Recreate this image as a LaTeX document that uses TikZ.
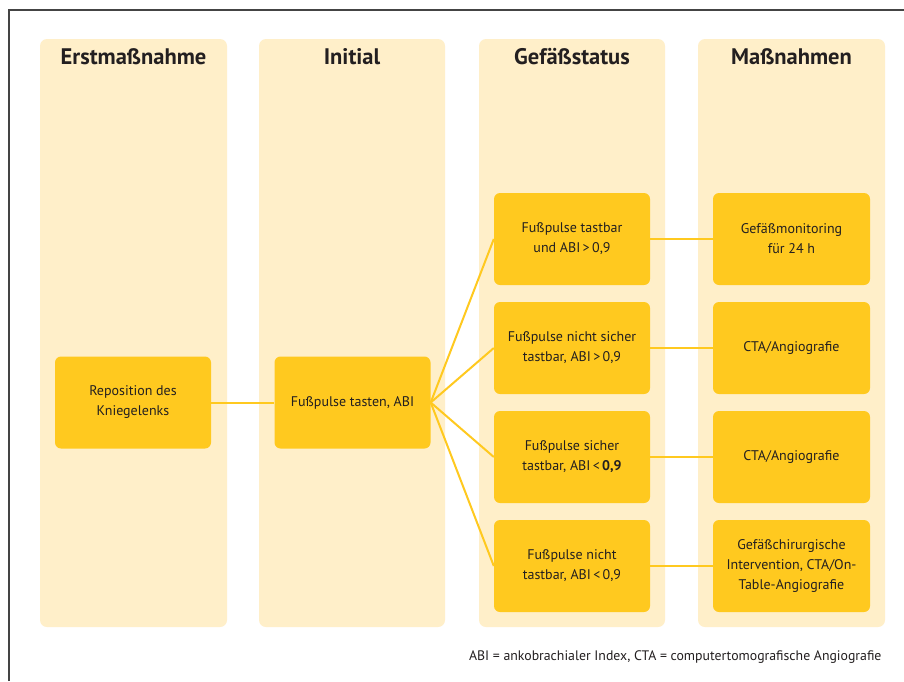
\documentclass[tikz,border=0pt]{standalone}
\usepackage{fontspec}
\setmainfont{PT Sans}
\definecolor{colbg}{HTML}{FFEFC9}
\definecolor{boxcol}{HTML}{FFC91F}
\definecolor{txtcol}{HTML}{231F20}
\definecolor{framecol}{HTML}{444444}
\begin{document}
\begin{tikzpicture}[x=1pt,y=-1pt,
  colbox/.style={fill=colbg, rounded corners=7pt},
  header/.style={font=\bfseries\fontsize{22.5}{26}\selectfont, text=txtcol, anchor=center},
  stepbox/.style={fill=boxcol, rounded corners=6pt, minimum width=156pt, minimum height=92pt,
     align=center, inner sep=0pt, text=txtcol, font=\fontsize{14}{20}\selectfont},
  link/.style={draw=boxcol, line width=2pt},
  note/.style={font=\fontsize{13.8}{16}\selectfont, text=txtcol}]
\useasboundingbox (0,0) rectangle (904,681);
\fill[white] (0,0) rectangle (904,681);
\draw[framecol, line width=1.5pt] (9,681) -- (9,10) -- (904,10);
% columns
\fill[colbox] (40,39) rectangle (227,627);
\fill[colbox] (259,39) rectangle (445,627);
\fill[colbox] (479,39) rectangle (665,627);
\fill[colbox] (698,39) rectangle (885,627);
% headers
\node[header] (h1) at (133.5,57) {Erstmaßnahme};
\node[header] (h2) at (352,57) {Initial};
\node[header] (h3) at (572,57) {Gefäßstatus};
\node[header] (h4) at (791.5,57) {Maßnahmen};
% boxes
\node[stepbox] (rep) at (133,402.5) {Reposition des\\Kniegelenks};
\node[stepbox] (ini) at (352.5,402.5) {Fußpulse tasten, ABI};
\node[stepbox] (g1) at (572,239) {Fußpulse tastbar\\und ABI\,>\,0,9};
\node[stepbox] (g2) at (572,348) {Fußpulse nicht sicher\\tastbar, ABI\,>\,0,9};
\node[stepbox] (g3) at (572,457) {Fußpulse sicher\\tastbar, ABI\,<\,\textbf{0,9}};
\node[stepbox] (g4) at (572,566) {Fußpulse nicht\\tastbar, ABI\,<\,0,9};
\node[stepbox, minimum width=157pt] (m1) at (791.5,239) {Gefäßmonitoring\\für 24 h};
\node[stepbox, minimum width=157pt] (m2) at (791.5,348) {CTA/Angiografie};
\node[stepbox, minimum width=157pt] (m3) at (791.5,457) {CTA/Angiografie};
\node[stepbox, minimum width=157pt] (m4) at (791.5,566) {Gefäßchirurgische\\Intervention, CTA/On-\\Table-Angiografie};
% connectors
\draw[link] (rep.east) -- (ini.west);
\draw[link] (ini.east) -- (g1.west);
\draw[link] (ini.east) -- (g2.west);
\draw[link] (ini.east) -- (g3.west);
\draw[link] (ini.east) -- (g4.west);
\draw[link] (g1.east) -- (m1.west);
\draw[link] (g2.east) -- (m2.west);
\draw[link] (g3.east) -- (m3.west);
\draw[link] (g4.east) -- (m4.west);
% footnote
\node[note, anchor=east] (fn) at (885,657) {ABI = ankobrachialer Index, CTA = computertomografische Angiografie};
\end{tikzpicture}
\end{document}
